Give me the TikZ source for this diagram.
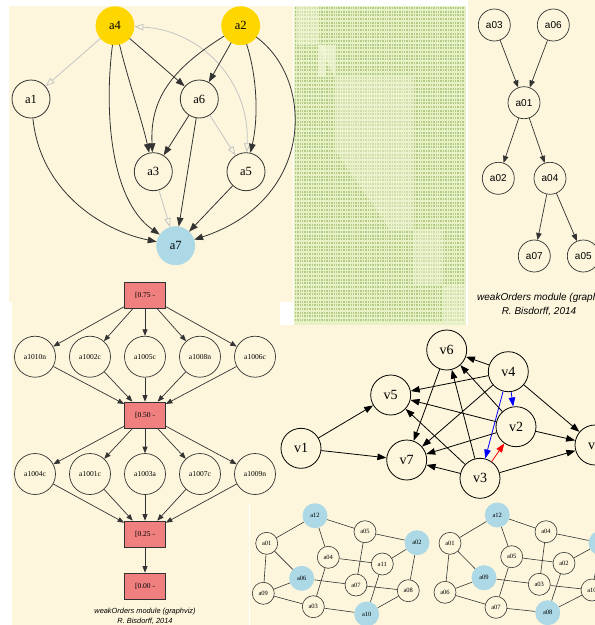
\documentclass[tikz,border=0pt]{standalone}
\usepackage{fontspec}
\setmainfont{Liberation Serif}
\newfontfamily\sansf{Liberation Sans}
\usetikzlibrary{arrows.meta}
\definecolor{cream}{HTML}{FDF6DC}
\definecolor{gold}{HTML}{FFD700}
\definecolor{lblue}{HTML}{ADD8E6}
\definecolor{coral}{HTML}{F08080}
\definecolor{mbg}{HTML}{E8F0C6}
\definecolor{mrowc}{HTML}{B2CC86}
\definecolor{mlight}{HTML}{F1F6D6}
\definecolor{gedge}{HTML}{C4C4C4}
\definecolor{ink}{HTML}{333333}
\tikzset{
  tlnode/.style={circle, draw=ink, line width=0.8pt, minimum size=38pt, inner sep=0pt, font=\fontsize{12.5}{14}\selectfont},
  tledge/.style={draw=ink, line width=0.8pt, -{Triangle[length=9pt,width=6.5pt]}},
  tlgray/.style={draw=gedge, line width=0.8pt, -{Triangle[open,length=9pt,width=6.5pt]}},
  trnode/.style={circle, draw=ink, line width=0.7pt, minimum size=32pt, inner sep=0pt, font=\sansf\fontsize{10}{12}\selectfont},
  tredge/.style={draw=ink, line width=0.7pt, -{Triangle[length=7pt,width=5.5pt]}},
  rknode/.style={circle, draw=ink, line width=0.7pt, minimum size=41pt, inner sep=0pt, font=\fontsize{7.5}{9}\selectfont},
  rkbox/.style={rectangle, draw=ink, fill=coral, line width=0.7pt, minimum width=41pt, minimum height=26pt, inner sep=0pt, font=\fontsize{7.5}{9}\selectfont},
  rkedge/.style={draw=ink, line width=0.7pt, -{Triangle[length=6.5pt,width=5pt]}},
  vnode/.style={circle, draw=black, line width=0.8pt, minimum size=40pt, inner sep=0pt, font=\fontsize{14}{16}\selectfont},
  vedge/.style={draw=black, line width=0.8pt, -{Triangle[length=9pt,width=6.5pt]}},
  bnode/.style={circle, draw=ink, line width=0.6pt, minimum size=22pt, inner sep=0pt, font=\fontsize{6.5}{8}\selectfont},
  bblue/.style={circle, fill=lblue, draw=none, minimum size=25pt, inner sep=0pt, font=\fontsize{6.5}{8}\selectfont},
  bedge/.style={draw=ink, line width=0.6pt},
  capt/.style={font=\sansf\itshape\fontsize{7.4}{9}\selectfont, inner sep=0pt},
  captbig/.style={font=\sansf\itshape\fontsize{10}{12}\selectfont, inner sep=0pt},
  mrow/.style={draw=mrowc, line width=2pt, dash pattern=on 0.9pt off 0.8pt}
}
\begin{document}
\begin{tikzpicture}[x=1pt,y=1pt]
\useasboundingbox (0,0) rectangle (595,-625);
\begin{scope}
\clip (0,0) rectangle (595,-625);
% backgrounds
\fill[white] (0,0) rectangle (595,-625);
\fill[cream] (9,-6) rectangle (293,-302);
\fill[cream] (12,-290) rectangle (280,-625);
\fill[cream] (468,0) rectangle (595,-327);
\fill[cream] (280,-325) rectangle (595,-503);
\fill[cream] (250,-503) rectangle (595,-625);
\fill[white] (248.5,-503) rectangle (250,-625);
% matrix panel
\fill[mbg] (294,-6) rectangle (466,-325);
\foreach \i in {0,...,85} { \draw[mrow] (295,{-8-3.67*\i}) -- (465,{-8-3.67*\i}); }
\fill[mlight, opacity=0.5] (297,-6) rectangle (318,-45);
\fill[mlight, opacity=0.7] (318,-45) -- (335,-77) -- (335,-45) -- cycle;
\fill[mlight, opacity=0.7] (318,-45) rectangle (326,-77);
\fill[mlight, opacity=0.45] (335,-77) -- (413,-77) -- (413,-230) -- (390,-230) -- (335,-150) -- cycle;
\fill[mlight, opacity=0.45] (413,-230) rectangle (443,-285);
\fill[mlight, opacity=0.5] (443,-285) rectangle (466,-323);

% ---------- top-left graph ----------
\node[tlnode, fill=gold, draw=gold] (a4) at (115,-25.7) {a4};
\node[tlnode, fill=gold, draw=gold] (a2) at (240.7,-25.7) {a2};
\node[tlnode] (a1) at (31,-99) {a1};
\node[tlnode] (a6) at (199.3,-99) {a6};
\node[tlnode] (a3) at (153.3,-171.7) {a3};
\node[tlnode] (a5) at (246,-171.7) {a5};
\node[tlnode, fill=lblue, draw=lblue] (a7) at (175.7,-245.7) {a7};
\draw[tlgray] (a4) -- (a1);
\draw[tledge] (a4) .. controls (104,-110) and (110,-200) .. (a7);
\draw[tledge] (a4) .. controls (128,-80) and (142,-120) .. (a3);
\draw[tledge] (a4) -- (a6);
\draw[draw=gedge, line width=0.8pt, {Triangle[open,length=9pt,width=6.5pt]}-{Triangle[open,length=9pt,width=6.5pt]}] (a4) .. controls (200,-30) and (250,-80) .. (a5);
\draw[tledge] (a2) .. controls (170,-70) and (150,-100) .. (a3);
\draw[tledge] (a2) -- (a6);
\draw[tledge] (a2) .. controls (258,-80) and (258,-120) .. (a5);
\draw[tledge] (a2) .. controls (315,-80) and (315,-200) .. (a7);
\draw[tledge] (a1) .. controls (40,-190) and (100,-230) .. (a7);
\draw[tledge] (a6) -- (a3);
\draw[tledge] (a6) -- (a7);
\draw[tlgray] (a6) -- (a5);
\draw[tlgray] (a3) -- (a7);
\draw[tledge] (a5) -- (a7);

% ---------- top-right graph ----------
\node[trnode] (t03) at (494.3,-25) {a03};
\node[trnode] (t06) at (553.3,-25) {a06};
\node[trnode] (t01) at (524,-102.7) {a01};
\node[trnode] (t02) at (498.3,-178.3) {a02};
\node[trnode] (t04) at (550,-178.3) {a04};
\node[trnode] (t07) at (534.3,-256) {a07};
\node[trnode] (t05) at (583.3,-256) {a05};
\draw[tredge] (t03) -- (t01);
\draw[tredge] (t06) -- (t01);
\draw[tredge] (t01) -- (t02);
\draw[tredge] (t01) -- (t04);
\draw[tredge] (t04) -- (t07);
\draw[tredge] (t04) -- (t05);
\node[captbig, anchor=west] (trc1) at (477,-298) {weakOrders module (graphviz)};
\node[captbig] (trc2) at (539,-312) {R. Bisdorff, 2014};

% ---------- rank tree ----------
\node[rkbox] (r75) at (145,-295) {[0.75 -};
\node[rkbox] (r50) at (145,-415) {[0.50 -};
\node[rkbox] (r25) at (145,-534) {[0.25 -};
\node[rkbox] (r00) at (145,-586) {[0.00 -};
\foreach \n/\x in {a1010n/35,a1002c/90,a1005c/145,a1008n/200,a1006c/255}{
  \node[rknode] (\n) at (\x,-356.7) {\n};
  \draw[rkedge] (r75) -- (\n);
  \draw[rkedge] (\n) -- (r50);
}
\foreach \n/\x in {a1004c/35,a1001c/90,a1003a/145,a1007c/200,a1009n/255}{
  \node[rknode] (\n) at (\x,-474) {\n};
  \draw[rkedge] (r50) -- (\n);
  \draw[rkedge] (\n) -- (r25);
}
\draw[rkedge] (r25) -- (r00);
\node[capt] (rkc1) at (145,-611.7) {weakOrders module (graphviz)};
\node[capt] (rkc2) at (145,-621.7) {R. Bisdorff, 2014};

% ---------- v graph ----------
\node[vnode] (v1) at (301,-448.3) {v1};
\node[vnode] (v5) at (390.7,-395) {v5};
\node[vnode] (v7) at (406.7,-460) {v7};
\node[vnode] (v6) at (446.7,-350) {v6};
\node[vnode] (v4) at (508.3,-371.7) {v4};
\node[vnode] (v2) at (516,-426.7) {v2};
\node[vnode] (v3) at (480,-478.3) {v3};
\node[vnode] (v8) at (595,-445) {v8};
\draw[vedge] (v1) -- (v5);
\draw[vedge] (v1) -- (v7);
\draw[vedge] (v4) -- (v6);
\draw[vedge] (v4) -- (v5);
\draw[vedge] (v4) -- (v7);
\draw[vedge] (v4) -- (v8);
\draw[vedge, draw=blue, -{Triangle[length=9pt,width=6.5pt,fill=blue]}] (v4) -- (v2);
\draw[vedge, draw=blue, -{Triangle[length=9pt,width=6.5pt,fill=blue]}] (v4) -- (v3);
\draw[vedge, draw=red, -{Triangle[length=9pt,width=6.5pt,fill=red]}] (v3) -- (v2);
\draw[vedge] (v2) -- (v6);
\draw[vedge] (v2) -- (v5);
\draw[vedge] (v2) -- (v7);
\draw[vedge] (v2) -- (v8);
\draw[vedge] (v3) -- (v7);
\draw[vedge] (v3) -- (v6);
\draw[vedge] (v3) -- (v5);
\draw[vedge] (v3) -- (v8);
\draw[vedge] (v6) -- (v7);

% ---------- bottom-left undirected graph ----------
\node[bblue] (La12) at (315,-515.7) {a12};
\node[bnode] (La01) at (266.7,-543.3) {a01};
\node[bnode] (La05) at (365,-531.7) {a05};
\node[bblue] (La02) at (417,-542.7) {a02};
\node[bnode] (La04) at (328.3,-557.3) {a04};
\node[bnode] (La11) at (382.3,-564) {a11};
\node[bblue] (La06) at (301.7,-578.3) {a06};
\node[bnode] (La07) at (356,-585) {a07};
\node[bnode] (La08) at (408.3,-590.7) {a08};
\node[bnode] (La09) at (263.3,-593.3) {a09};
\node[bnode] (La03) at (313.3,-606.7) {a03};
\node[bblue] (La10) at (366.7,-614) {a10};
\foreach \u/\v in {La12/La01,La12/La05,La12/La04,La01/La06,La01/La09,La09/La06,La09/La03,La04/La11,La04/La03,La06/La07,La05/La07,La05/La02,La02/La11,La02/La08,La11/La10,La07/La08,La03/La10,La10/La08}{
  \draw[bedge] (\u) -- (\v);
}

% ---------- bottom-right undirected graph ----------
\node[bblue] (Ra12) at (497.3,-515) {a12};
\node[bnode] (Ra01) at (450,-543.3) {a01};
\node[bnode] (Ra04) at (546,-531.7) {a04};
\node[bblue] (Rax) at (601,-543) {};
\node[bnode] (Ra05) at (511.7,-556.7) {a05};
\node[bnode] (Ra02) at (564,-563.3) {a02};
\node[bblue] (Ra09) at (484,-577.7) {a09};
\node[bnode] (Ra03) at (539.3,-584.3) {a03};
\node[bnode] (Ra10) at (592,-590) {a10};
\node[bnode] (Ra06) at (445,-592.3) {a06};
\node[bnode] (Ra07) at (496,-607.3) {a07};
\node[bblue] (Ra08) at (547.7,-612.7) {a08};
\foreach \u/\v in {Ra12/Ra01,Ra12/Ra04,Ra12/Ra05,Ra01/Ra09,Ra01/Ra06,Ra06/Ra09,Ra06/Ra07,Ra09/Ra03,Ra05/Ra02,Ra05/Ra07,Ra04/Ra03,Ra04/Rax,Ra02/Rax,Ra02/Ra08,Ra03/Ra10,Ra07/Ra08,Ra08/Ra10,Rax/Ra10}{
  \draw[bedge] (\u) -- (\v);
}
\end{scope}
\end{tikzpicture}
\end{document}
